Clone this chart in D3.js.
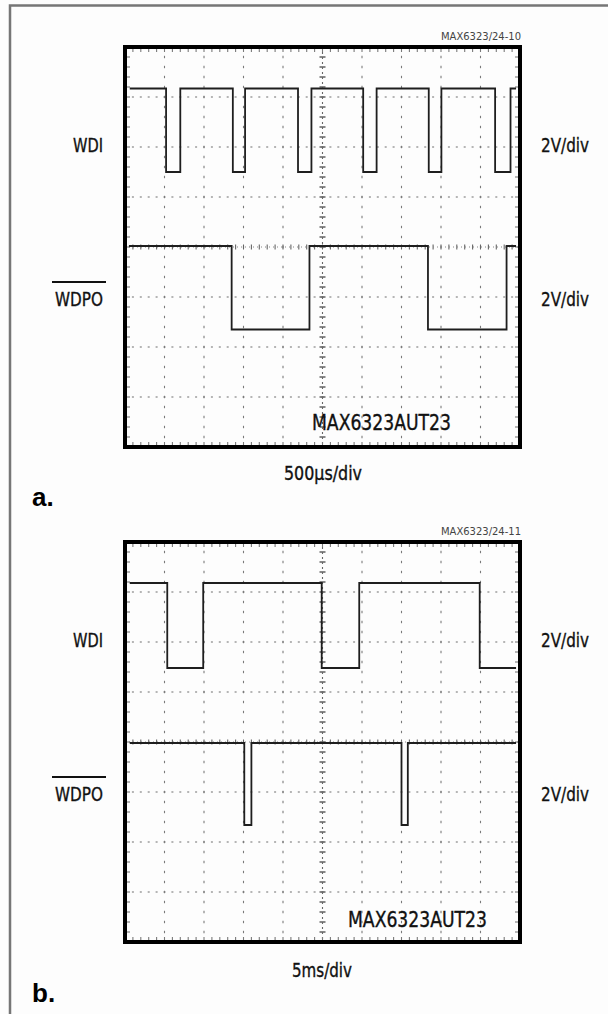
<!DOCTYPE html>
<html>
<head>
<meta charset="utf-8">
<script src="https://cdn.jsdelivr.net/npm/d3@7"></script>
<style>
  body { margin: 0; background: #fdfdfd; }
  svg { display: block; }
  text { font-family: "Liberation Sans Narrow", "Arial Narrow", "DejaVu Sans Condensed", sans-serif; fill: #111; stroke: #111; stroke-width: 0.35px; }
</style>
</head>
<body>
<div id="chart"></div>
<script>
// scope traces: time in divisions (0..10), level in divisions from the centre line (2V/div)
var wdiA_t  = [0.12, 1.04, 1.40, 2.73, 3.04, 4.38, 4.72, 6.03, 6.37, 7.69, 8.01, 9.37, 9.76, 9.90];
var wdiA_v  = [3.17, 1.50, 3.17, 1.50, 3.17, 1.50, 3.17, 1.50, 3.17, 1.50, 3.17, 1.50, 3.17, 3.17];
var wdpoA_t = [0.10, 2.70, 4.67, 7.67, 9.66, 9.90];
var wdpoA_v = [0.02, -1.65, 0.02, -1.65, 0.02, 0.02];

var wdiB_t  = [0.12, 1.07, 1.98, 4.98, 5.93, 8.98, 9.90];
var wdiB_v  = [3.18, 1.48, 3.18, 1.48, 3.18, 1.48, 1.48];
var wdpoB_t = [0.12, 3.02, 3.20, 7.00, 7.16, 9.90];
var wdpoB_v = [-0.02, -1.66, -0.02, -1.66, -0.02, -0.02];

var panelLetters = ["a.", "b."];
var figureIds   = ["MAX6323/24-10", "MAX6323/24-11"];
var timeBases   = ["500\u00b5s/div", "5ms/div"];
var channels    = ["WDI", "WDPO"];
var voltsPerDiv = "2V/div";
var partName    = "MAX6323AUT23";

function zip(t, v) { return t.map((d, i) => [d, v[i]]); }

var width = 608, height = 1014;
var svg = d3.select("#chart").append("svg")
    .attr("width", width)
    .attr("height", height);

svg.append("rect").attr("width", width).attr("height", height).attr("fill", "#fdfdfd");

// outer figure frame (left + top only, rest is cropped)
svg.append("path")
    .attr("d", "M10,1014V5.5H608")
    .attr("fill", "none")
    .attr("stroke", "#767676")
    .attr("stroke-width", 2.5);

var panels = [
  {top: 47,  bottom: 447, wdi: zip(wdiA_t, wdiA_v), wdpo: zip(wdpoA_t, wdpoA_v)},
  {top: 542, bottom: 942, wdi: zip(wdiB_t, wdiB_v), wdpo: zip(wdpoB_t, wdpoB_v)}
];

var minorX = d3.range(51).map(i => i / 5);
var minorY = d3.range(41).map(i => -4 + i / 5);

panels.forEach(function(p, k) {
  var x = d3.scaleLinear().domain([0, 10]).range([125, 520]);
  var y = d3.scaleLinear().domain([-4, 4]).range([p.bottom, p.top]);
  var g = svg.append("g");
  var off = p.top - 47;   // vertical shift of the labels for panel b

  // graticule: dotted major lines
  var grid = g.append("g").attr("stroke", "#7a7a7a").attr("stroke-width", 1.1);
  [1, 2, 3, 4, 6, 7, 8, 9].forEach(function(i) {
    grid.selectAll(null).data(minorY.slice(1, -1)).enter().append("line")
      .attr("x1", x(i)).attr("x2", x(i))
      .attr("y1", d => y(d) - 1.2).attr("y2", d => y(d) + 1.2);
  });
  [-3, -2, -1, 1, 2, 3].forEach(function(j) {
    grid.selectAll(null).data(minorX.slice(1, -1)).enter().append("line")
      .attr("x1", d => x(d) - 1).attr("x2", d => x(d) + 1)
      .attr("y1", y(j)).attr("y2", y(j));
  });
  // centre cross with minor ticks
  grid.selectAll(null).data(minorY.slice(1, -1)).enter().append("line")
    .attr("x1", x(5) - 3).attr("x2", x(5) + 3)
    .attr("y1", d => y(d)).attr("y2", d => y(d))
    .attr("stroke", "#555").attr("stroke-width", 1.4);
  grid.append("line")
    .attr("x1", x(5)).attr("x2", x(5)).attr("y1", y(4)).attr("y2", y(-4))
    .attr("stroke", "#666").attr("stroke-dasharray", "2,3");
  grid.selectAll(null).data(minorX.slice(1, -1)).enter().append("line")
    .attr("x1", d => x(d)).attr("x2", d => x(d))
    .attr("y1", y(0) - 2.5).attr("y2", y(0) + 2.5)
    .attr("stroke", "#666");
  grid.append("line")
    .attr("x1", x(0)).attr("x2", x(10)).attr("y1", y(0)).attr("y2", y(0))
    .attr("stroke", "#888").attr("stroke-dasharray", "1,3");

  // minor ticks on the inner edges
  grid.selectAll(null).data(minorX.slice(1, -1)).enter().append("line")
    .attr("x1", d => x(d)).attr("x2", d => x(d))
    .attr("y1", y(4) + 2).attr("y2", y(4) + 5);
  grid.selectAll(null).data(minorX.slice(1, -1)).enter().append("line")
    .attr("x1", d => x(d)).attr("x2", d => x(d))
    .attr("y1", y(-4) - 2).attr("y2", y(-4) - 5);
  grid.selectAll(null).data(minorY.slice(1, -1)).enter().append("line")
    .attr("x1", x(0) + 2).attr("x2", x(0) + 5)
    .attr("y1", d => y(d)).attr("y2", d => y(d));
  grid.selectAll(null).data(minorY.slice(1, -1)).enter().append("line")
    .attr("x1", x(10) - 2).attr("x2", x(10) - 5)
    .attr("y1", d => y(d)).attr("y2", d => y(d));

  // traces
  var line = d3.line()
    .x(d => x(d[0]))
    .y(d => y(d[1]))
    .curve(d3.curveStepAfter);
  [p.wdi, p.wdpo].forEach(function(tr) {
    g.append("path")
      .datum(tr)
      .attr("fill", "none")
      .attr("stroke", "#1e1e1e")
      .attr("stroke-width", 1.8)
      .attr("d", line);
  });

  // screen border
  g.append("rect")
    .attr("x", x(0)).attr("y", y(4))
    .attr("width", x(10) - x(0)).attr("height", y(-4) - y(4))
    .attr("fill", "none")
    .attr("stroke", "#000")
    .attr("stroke-width", 4);

  // labels
  g.append("text")
    .attr("x", 441).attr("y", 40 + off)
    .attr("textLength", 80).attr("lengthAdjust", "spacingAndGlyphs")
    .style("font-size", "10px").style("fill", "#444").style("stroke", "none")
    .text(figureIds[k]);

  g.append("text")
    .attr("x", 73).attr("y", 152 + off)
    .attr("textLength", 30).attr("lengthAdjust", "spacingAndGlyphs")
    .style("font-size", "20px")
    .text(channels[0]);
  g.append("text")
    .attr("x", 55).attr("y", 306 + off)
    .attr("textLength", 48).attr("lengthAdjust", "spacingAndGlyphs")
    .style("font-size", "20px")
    .text(channels[1]);
  // active-low bar over WDPO
  g.append("line")
    .attr("x1", 52).attr("x2", 106)
    .attr("y1", 282 + off).attr("y2", 282 + off)
    .attr("stroke", "#111").attr("stroke-width", 1.8);

  [152, 306].forEach(function(yy) {
    g.append("text")
      .attr("x", 541).attr("y", yy + off)
      .attr("textLength", 48).attr("lengthAdjust", "spacingAndGlyphs")
      .style("font-size", "20px")
      .text(voltsPerDiv);
  });

  g.append("text")
    .attr("x", k === 0 ? 312 : 348).attr("y", k === 0 ? 430 : 927)
    .attr("textLength", 139).attr("lengthAdjust", "spacingAndGlyphs")
    .style("font-size", "21px")
    .text(partName);

  g.append("text")
    .attr("x", k === 0 ? 284 : 292).attr("y", k === 0 ? 480 : 977)
    .attr("textLength", k === 0 ? 78 : 60).attr("lengthAdjust", "spacingAndGlyphs")
    .style("font-size", "19px")
    .text(timeBases[k]);

  g.append("text")
    .attr("x", 32).attr("y", k === 0 ? 506 : 1002)
    .style("font-family", "'Liberation Sans', Arial, sans-serif")
    .style("font-weight", "bold")
    .style("font-size", "26px")
    .style("fill", "#000").style("stroke", "none")
    .text(panelLetters[k]);
});
</script>
</body>
</html>
